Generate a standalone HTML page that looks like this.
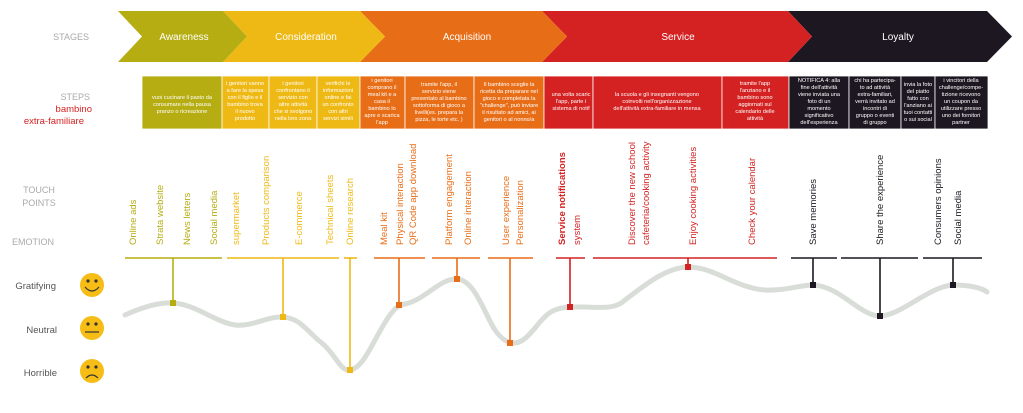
<!DOCTYPE html>
<html><head><meta charset="utf-8"><style>
html,body{margin:0;padding:0;background:#fff;}
svg{display:block;font-family:"Liberation Sans",sans-serif;}
.st{font-size:10px;fill:#fff;text-anchor:middle;}
.bx{font-size:5.6px;fill:#fff;text-anchor:middle;}
.lb{font-size:9px;fill:#aaa;}
.tp{font-size:9.5px;}
</style></head><body>
<svg width="1023" height="413" viewBox="0 0 1023 413" xmlns="http://www.w3.org/2000/svg">
<!-- stages -->
<polygon points="788,11 987,11 1012,36.5 987,62 788,62 812,36.5" fill="#1c1721"/>
<polygon points="542,11 788,11 812,36.5 788,62 542,62 567,36.5" fill="#d42222"/>
<polygon points="360,11 542,11 567,36.5 542,62 360,62 385,36.5" fill="#e86d17"/>
<polygon points="223,11 360,11 385,36.5 360,62 223,62 247,36.5" fill="#eeb914"/>
<polygon points="118,11 223,11 247,36.5 223,62 118,62 142,36.5" fill="#b5ad12"/>
<g class="st">
<text x="184" y="40">Awareness</text>
<text x="306" y="40">Consideration</text>
<text x="467" y="40">Acquisition</text>
<text x="678" y="40">Service</text>
<text x="898" y="40">Loyalty</text>
</g>
<text x="89" y="40" class="lb" text-anchor="end">STAGES</text>
<text x="90" y="100" class="lb" text-anchor="end">STEPS</text>
<text x="92" y="112" font-size="9.5" fill="#d42222" text-anchor="end">bambino</text>
<text x="84" y="124" font-size="9.5" fill="#d42222" text-anchor="end">extra-familiare</text>
<!-- steps boxes -->
<g stroke="#fff" stroke-width="0.8">
<rect x="142" y="76" width="80" height="53" fill="#b5ad12"/>
<rect x="222" y="76" width="47" height="53" fill="#eeb914"/>
<rect x="269" y="76" width="48" height="53" fill="#eeb914"/>
<rect x="317" y="76" width="43" height="53" fill="#eeb914"/>
<rect x="360" y="76" width="45" height="53" fill="#e86d17"/>
<rect x="405" y="76" width="69" height="53" fill="#e86d17"/>
<rect x="474" y="76" width="70" height="53" fill="#e86d17"/>
<rect x="544" y="76" width="49" height="53" fill="#d42222"/>
<rect x="593" y="76" width="129" height="53" fill="#d42222"/>
<rect x="722" y="76" width="67" height="53" fill="#d42222"/>
<rect x="789" y="76" width="60" height="53" fill="#1c1721"/>
<rect x="849" y="76" width="52" height="53" fill="#1c1721"/>
<rect x="901" y="76" width="34" height="53" fill="#1c1721"/>
<rect x="935" y="76" width="53" height="53" fill="#1c1721"/>
</g>
<g class="bx">
<text x="182" y="99">vuoi cucinare il pasto da</text><text x="182" y="106">consumare nella pausa</text><text x="182" y="113">pranzo o ricreazione</text>
<text x="245" y="85">i genitori vanno</text><text x="245" y="92">a fare la spesa</text><text x="245" y="99">con il figlio e il</text><text x="245" y="106">bambino trova</text><text x="245" y="113">il nuovo</text><text x="245" y="120">prodotto</text>
<text x="293" y="85">i genitori</text><text x="293" y="92">confrontano il</text><text x="293" y="99">servizio con</text><text x="293" y="106">altre attività</text><text x="293" y="113">che si svolgono</text><text x="293" y="120">nella loro zona</text>
<text x="338" y="85">verifichi le</text><text x="338" y="92">informazioni</text><text x="338" y="99">online e fai</text><text x="338" y="106">un confronto</text><text x="338" y="113">con altri</text><text x="338" y="120">servizi simili</text>
<text x="382" y="82">i genitori</text><text x="382" y="89">comprano il</text><text x="382" y="96">meal kit e a</text><text x="382" y="103">casa il</text><text x="382" y="110">bambino lo</text><text x="382" y="117">apre e scarica</text><text x="382" y="124">l'app</text>
<text x="439" y="86">tramite l'app, il</text><text x="439" y="93">servizio viene</text><text x="439" y="100">presentato al bambino</text><text x="439" y="107">sottoforma di gioco a</text><text x="439" y="114">livelli(es. prepara la</text><text x="439" y="121">pizza, le torte etc. )</text>
<text x="509" y="86">Il bambino sceglie la</text><text x="509" y="93">ricetta da preparare nel</text><text x="509" y="100">gioco e completata la</text><text x="509" y="107">"challenge", può inviare</text><text x="509" y="114">il risultato ad amici, ai</text><text x="509" y="121">genitori o al nonno/a</text>
<text x="571" y="96">una volta scaric</text><text x="571" y="103">l'app, parte i</text><text x="571" y="110">sistema di notif</text>
<text x="657" y="96">la scuola e gli insegnanti vengono</text><text x="657" y="103">coinvolti nell'organizzazione</text><text x="657" y="110">dell'attività extra-familiare in  mensa</text>
<text x="755" y="85">tramite l'app</text><text x="755" y="92">l'anziano e il</text><text x="755" y="99">bambino sono</text><text x="755" y="106">aggiornati sul</text><text x="755" y="113">calendario delle</text><text x="755" y="120">attività</text>
<text x="819" y="82">NOTIFICA 4: alla</text><text x="819" y="89">fine dell'attività</text><text x="819" y="96">viene inviata una</text><text x="819" y="103">foto di un</text><text x="819" y="110">momento</text><text x="819" y="117">significativo</text><text x="819" y="124">dell'esperienza</text>
<text x="875" y="82">chi ha partecipa-</text><text x="875" y="89">to ad attività</text><text x="875" y="96">extra-familiari,</text><text x="875" y="103">verrà invitato ad</text><text x="875" y="110">incontri di</text><text x="875" y="117">gruppo o eventi</text><text x="875" y="124">di gruppo</text>
<text x="918" y="86">invia la foto</text><text x="918" y="93">del piatto</text><text x="918" y="100">fatto con</text><text x="918" y="107">l'anziano ai</text><text x="918" y="114">tuoi contatti</text><text x="918" y="121">o sui social</text>
<text x="961" y="82">i vincitori della</text><text x="961" y="89">challenge/compe-</text><text x="961" y="96">tizione ricevono</text><text x="961" y="103">un coupon da</text><text x="961" y="110">utilizzare presso</text><text x="961" y="117">uno dei fornitori</text><text x="961" y="124">partner</text>
</g>
<!-- labels -->
<text x="39" y="193" class="lb" text-anchor="middle">TOUCH</text>
<text x="39" y="206" class="lb" text-anchor="middle">POINTS</text>
<text x="33" y="245" class="lb" text-anchor="middle">EMOTION</text>
<g font-size="9.5" fill="#555" text-anchor="end">
<text x="56" y="289">Gratifying</text>
<text x="57" y="333">Neutral</text>
<text x="57" y="376">Horrible</text>
</g>
<!-- faces -->
<g>
<circle cx="92" cy="285" r="12" fill="#f6bd16"/><circle cx="88" cy="281" r="1.6" fill="#333"/><circle cx="96" cy="281" r="1.6" fill="#333"/><path d="M85 287 Q92 295 99 287" stroke="#333" stroke-width="1.2" fill="none"/>
<circle cx="92" cy="328" r="12" fill="#f6bd16"/><circle cx="88" cy="324" r="1.6" fill="#333"/><circle cx="96" cy="324" r="1.6" fill="#333"/><line x1="85" y1="332" x2="99" y2="332" stroke="#333" stroke-width="1.2"/>
<circle cx="92" cy="371" r="12" fill="#f6bd16"/><circle cx="88" cy="367" r="1.6" fill="#333"/><circle cx="96" cy="367" r="1.6" fill="#333"/><path d="M86 378 Q92 372 98 378" stroke="#333" stroke-width="1.2" fill="none"/>
</g>
<!-- touchpoint vertical labels -->
<g class="tp">
<g fill="#b5ad12">
<text transform="translate(136,245) rotate(-90)">Online ads</text>
<text transform="translate(163,245) rotate(-90)">Strata website</text>
<text transform="translate(190,245) rotate(-90)">News letters</text>
<text transform="translate(217,245) rotate(-90)">Social media</text>
</g>
<g fill="#eeb914">
<text transform="translate(239,245) rotate(-90)">supermarket</text>
<text transform="translate(269,245) rotate(-90)">Products comparison</text>
<text transform="translate(302,245) rotate(-90)">E-commerce</text>
<text transform="translate(333,245) rotate(-90)">Technical sheets</text>
<text transform="translate(353,245) rotate(-90)">Online research</text>
</g>
<g fill="#e86d17">
<text transform="translate(387,245) rotate(-90)">Meal kit</text>
<text transform="translate(403,245) rotate(-90)">Physical interaction</text>
<text transform="translate(416,245) rotate(-90)">QR Code app download</text>
<text transform="translate(452,245) rotate(-90)">Platform engagement</text>
<text transform="translate(471,245) rotate(-90)">Online interaction</text>
<text transform="translate(509,245) rotate(-90)">User experience</text>
<text transform="translate(523,245) rotate(-90)">Personalization</text>
</g>
<g fill="#d42222">
<text transform="translate(565,245) rotate(-90)" font-weight="bold">Service notifications</text>
<text transform="translate(580,245) rotate(-90)">system</text>
<text transform="translate(635,245) rotate(-90)">Discover the new school</text>
<text transform="translate(649,245) rotate(-90)">cafeteria/cooking activity</text>
<text transform="translate(696,245) rotate(-90)">Enjoy cooking activities</text>
<text transform="translate(755,245) rotate(-90)">Check your calendar</text>
</g>
<g fill="#1c1721">
<text transform="translate(816,245) rotate(-90)">Save memories</text>
<text transform="translate(883,245) rotate(-90)">Share the experience</text>
<text transform="translate(941,245) rotate(-90)">Consumers opinions</text>
<text transform="translate(961,245) rotate(-90)">Social media</text>
</g>
</g>
<!-- curve -->
<path d="M125,315 C145,306 160,302 173,303 C195,304 215,322 235,325 C252,327 268,316 283,317 C298,318 305,328 318,340 C335,352 340,372 350,370 C365,368 375,335 390,315 C395,308 399,305 405,304 C425,300 440,278 457,279 C475,280 485,315 495,330 C502,340 508,343 515,343 C530,342 540,315 555,310 C562,307 570,307 580,307 C600,307 615,310 625,300 C645,285 665,268 688,267 C715,267 735,288 765,290 C785,291 800,285 813,285 C840,286 860,316 880,316 C900,316 930,286 953,285 C970,285 982,288 987,292" fill="none" stroke="#d9ddd8" stroke-width="5" stroke-linecap="round"/>
<!-- bars + stems -->
<g stroke-width="1.6">
<g stroke="#b5ad12"><line x1="125" y1="258" x2="222" y2="258"/><line x1="173" y1="258" x2="173" y2="303"/></g>
<g stroke="#eeb914"><line x1="227" y1="258" x2="339" y2="258"/><line x1="283" y1="258" x2="283" y2="317"/><line x1="344" y1="258" x2="357" y2="258"/><line x1="350" y1="258" x2="350" y2="370"/></g>
<g stroke="#e86d17"><line x1="374" y1="258" x2="425" y2="258"/><line x1="399" y1="258" x2="399" y2="305"/><line x1="432" y1="258" x2="480" y2="258"/><line x1="457" y1="258" x2="457" y2="279"/><line x1="488" y1="258" x2="533" y2="258"/><line x1="510" y1="258" x2="510" y2="343"/></g>
<g stroke="#d42222"><line x1="556" y1="258" x2="585" y2="258"/><line x1="570" y1="258" x2="570" y2="307"/><line x1="593" y1="258" x2="777" y2="258"/><line x1="688" y1="258" x2="688" y2="267"/></g>
<g stroke="#1c1721"><line x1="791" y1="258" x2="837" y2="258"/><line x1="813" y1="258" x2="813" y2="285"/><line x1="841" y1="258" x2="918" y2="258"/><line x1="880" y1="258" x2="880" y2="316"/><line x1="923" y1="258" x2="982" y2="258"/><line x1="953" y1="258" x2="953" y2="285"/></g>
</g>
<g>
<rect x="170" y="300" width="6" height="6" fill="#b5ad12"/>
<rect x="280" y="314" width="6" height="6" fill="#eeb914"/>
<rect x="347" y="367" width="6" height="6" fill="#eeb914"/>
<rect x="396" y="302" width="6" height="6" fill="#e86d17"/>
<rect x="454" y="276" width="6" height="6" fill="#e86d17"/>
<rect x="507" y="340" width="6" height="6" fill="#e86d17"/>
<rect x="567" y="304" width="6" height="6" fill="#d42222"/>
<rect x="685" y="264" width="6" height="6" fill="#d42222"/>
<rect x="810" y="282" width="6" height="6" fill="#1c1721"/>
<rect x="877" y="313" width="6" height="6" fill="#1c1721"/>
<rect x="950" y="282" width="6" height="6" fill="#1c1721"/>
</g>
</svg>
</body></html>
